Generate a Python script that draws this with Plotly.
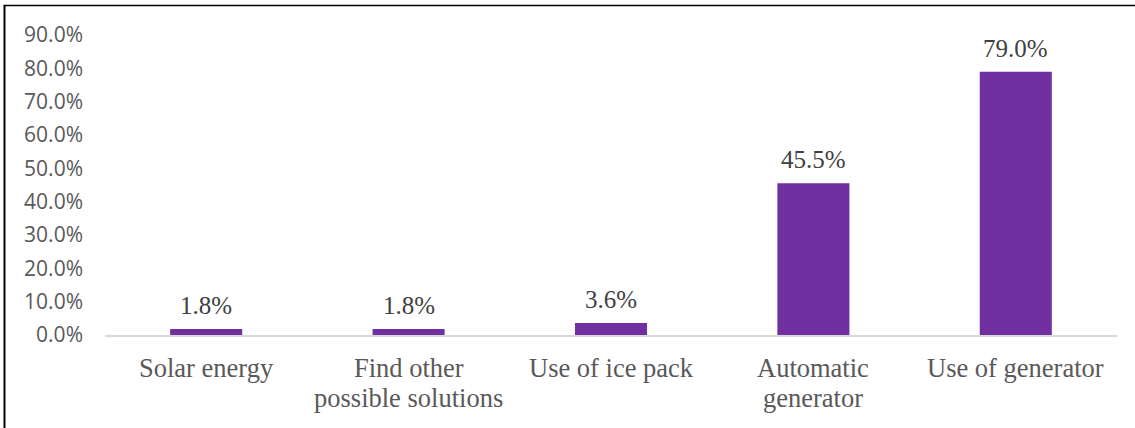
import plotly.graph_objects as go

categories = ["Solar energy", "Find other<br>possible solutions", "Use of ice pack",
              "Automatic<br>generator", "Use of generator"]
values = [1.8, 1.8, 3.6, 45.5, 79.0]
y_ticks = [0, 10, 20, 30, 40, 50, 60, 70, 80, 90]
y_tick_labels = [f"{v:.1f}%" for v in y_ticks]
value_labels = [f"{v:.1f}%" for v in values]

W, H = 1135, 428
L, R, T, B = 105, 18, 34.5, 93
pw, ph = W - L - R, H - T - B

fig = go.Figure()
fig.add_trace(go.Bar(
    x=categories, y=values,
    marker=dict(color="#7030A0", line=dict(width=0)),
    hoverinfo="skip",
))

for c, v, t in zip(categories, values, value_labels):
    fig.add_annotation(x=c, y=v, text=t, showarrow=False, yanchor="bottom",
                       yshift=8, font=dict(family="Liberation Serif", size=25, color="#404040"))

# category labels (each line placed separately to match tight line spacing)
for c in categories:
    for i, line in enumerate(c.split("<br>")):
        fig.add_annotation(x=c, y=0, text=line, showarrow=False, yanchor="middle",
                           yshift=-33 - 30 * i,
                           font=dict(family="Liberation Serif", size=26.5, color="#595959"))

def px(x):
    return (x - L) / pw

def py(y):
    return (H - B - y) / ph

# outer frame (left and top)
fig.add_shape(type="line", xref="paper", yref="paper",
              x0=px(4.5), x1=px(4.5), y0=py(5), y1=py(H + 2),
              line=dict(color="black", width=2))
fig.add_shape(type="line", xref="paper", yref="paper",
              x0=px(3.5), x1=px(W + 2), y0=py(5), y1=py(5),
              line=dict(color="black", width=1.5))

fig.update_layout(
    width=W, height=H,
    margin=dict(l=L, r=R, t=T, b=B),
    plot_bgcolor="white", paper_bgcolor="white",
    bargap=0.644,
    showlegend=False,
    xaxis=dict(
        showgrid=False, zeroline=False, showline=True, linecolor="#D9D9D9", linewidth=1.5,
        ticks="", showticklabels=False,
    ),
    yaxis=dict(
        range=[0, 90], tickvals=y_ticks, ticktext=y_tick_labels,
        showgrid=False, zeroline=False, showline=False, ticks="",
        tickfont=dict(family="Open Sans", size=21, color="#595959"),
        ticklabelstandoff=21,
    ),
)

fig.write_html("out.html")
